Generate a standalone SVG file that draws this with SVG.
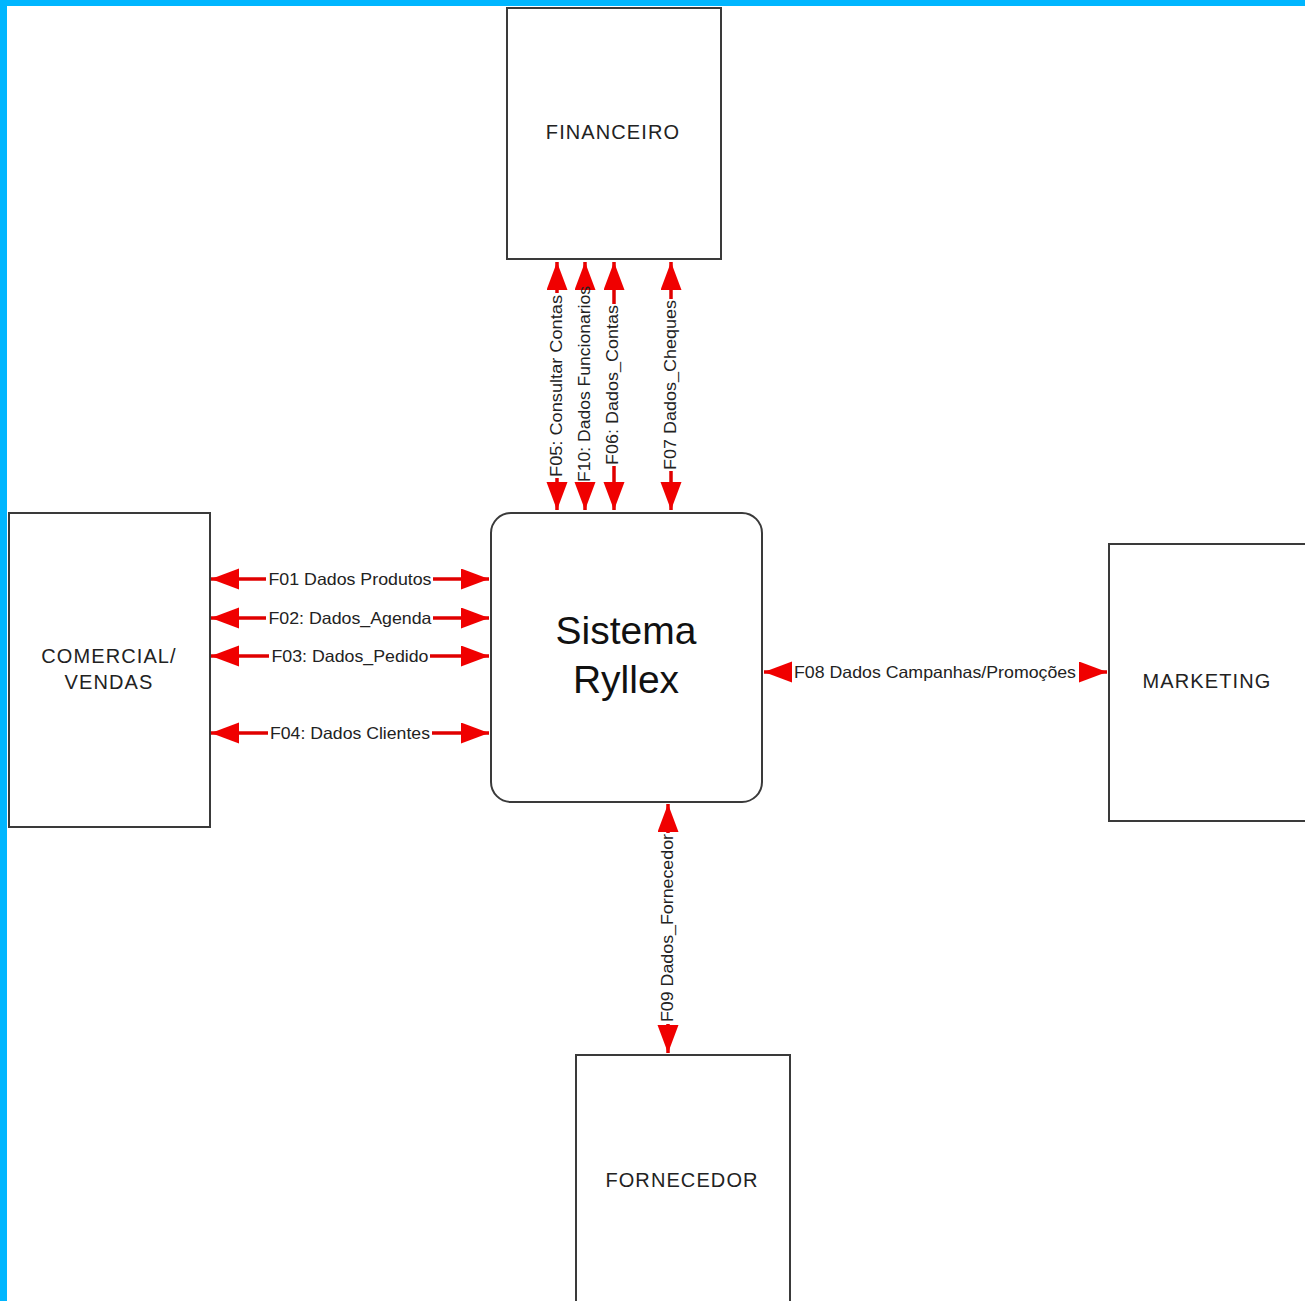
<svg xmlns="http://www.w3.org/2000/svg" width="1305" height="1301" viewBox="0 0 1305 1301">
<style>
.box{fill:#fff;stroke:#3a3a3a;stroke-width:2}
.nt{font-family:"Liberation Sans",Arial,sans-serif;font-size:20px;fill:#222;text-anchor:middle;letter-spacing:1.1px}
.big{font-family:"Liberation Sans",Arial,sans-serif;font-size:39px;fill:#111;text-anchor:middle}
.lb{font-family:"Liberation Sans",Arial,sans-serif;font-size:16.5px;fill:#222;text-anchor:middle;dominant-baseline:central}
.ln{stroke:#e00000;stroke-width:3.5;fill:none}
.s{marker-start:url(#ah)}
.e{marker-end:url(#ah)}
</style>
<defs>
<marker id="ah" markerUnits="userSpaceOnUse" markerWidth="30" markerHeight="22" refX="28" refY="10.5" orient="auto-start-reverse" viewBox="0 0 30 22">
<path d="M0,0 L28,10.5 L0,21 Z" fill="#f00000"/>
</marker>
</defs>
<rect x="0" y="0" width="1305" height="1301" fill="#fff"/>
<rect x="0" y="0" width="1305" height="6" fill="#00b6ff"/>
<rect x="0" y="0" width="7" height="1301" fill="#00b6ff"/>

<g id="financeiro"><rect class="box" x="507" y="8" width="214" height="251"/><text class="nt" x="613" y="139">FINANCEIRO</text></g>
<g id="comercial"><rect class="box" x="9" y="513" width="201" height="314"/><text class="nt" x="109" y="663">COMERCIAL/</text><text class="nt" x="109" y="689">VENDAS</text></g>
<g id="sistema"><rect class="box" x="491" y="513" width="271" height="289" rx="20" ry="20"/><text class="big" x="626" y="644">Sistema</text><text class="big" x="626" y="693">Ryllex</text></g>
<g id="marketing"><rect class="box" x="1109" y="544" width="197" height="277"/><text class="nt" x="1207" y="688">MARKETING</text></g>
<g id="fornecedor"><rect class="box" x="576" y="1055" width="214" height="260"/><text class="nt" x="682" y="1187">FORNECEDOR</text></g>

<g id="connectors">
<path class="ln s" d="M557,262 L557,293"/><path class="ln e" d="M557,478 L557,510"/>
<text class="lb" transform="translate(556,386) rotate(-90)" textLength="182" lengthAdjust="spacingAndGlyphs">F05: Consultar Contas</text>
<path class="ln s" d="M585,262 L585,285"/><path class="ln e" d="M585,483 L585,510"/>
<text class="lb" transform="translate(584,384) rotate(-90)" textLength="196" lengthAdjust="spacingAndGlyphs">F10: Dados Funcionarios</text>
<path class="ln s" d="M614,262 L614,304"/><path class="ln e" d="M614,466 L614,510"/>
<text class="lb" transform="translate(612,385) rotate(-90)" textLength="160" lengthAdjust="spacingAndGlyphs">F06: Dados_Contas</text>
<path class="ln s" d="M671,262 L671,299"/><path class="ln e" d="M671,471 L671,510"/>
<text class="lb" transform="translate(670,385) rotate(-90)" textLength="170" lengthAdjust="spacingAndGlyphs">F07 Dados_Cheques</text>

<path class="ln s" d="M211,579 L266,579"/><path class="ln e" d="M433,579 L489,579"/>
<text class="lb" x="350" y="579" textLength="163" lengthAdjust="spacingAndGlyphs">F01 Dados Produtos</text>
<path class="ln s" d="M211,618 L266,618"/><path class="ln e" d="M433,618 L489,618"/>
<text class="lb" x="350" y="618" textLength="163" lengthAdjust="spacingAndGlyphs">F02: Dados_Agenda</text>
<path class="ln s" d="M211,656 L269,656"/><path class="ln e" d="M430,656 L489,656"/>
<text class="lb" x="350" y="656" textLength="157" lengthAdjust="spacingAndGlyphs">F03: Dados_Pedido</text>
<path class="ln s" d="M211,733 L268,733"/><path class="ln e" d="M432,733 L489,733"/>
<text class="lb" x="350" y="733" textLength="160" lengthAdjust="spacingAndGlyphs">F04: Dados Clientes</text>

<path class="ln s" d="M764,672 L792,672"/><path class="ln e" d="M1079,672 L1107,672"/>
<text class="lb" x="935" y="672" textLength="282" lengthAdjust="spacingAndGlyphs">F08 Dados Campanhas/Promoções</text>

<path class="ln s" d="M668,804 L668,833"/><path class="ln e" d="M668,1024 L668,1053"/>
<text class="lb" transform="translate(667,928) rotate(-90)" textLength="188" lengthAdjust="spacingAndGlyphs">F09 Dados_Fornecedor</text>
</g>
</svg>
